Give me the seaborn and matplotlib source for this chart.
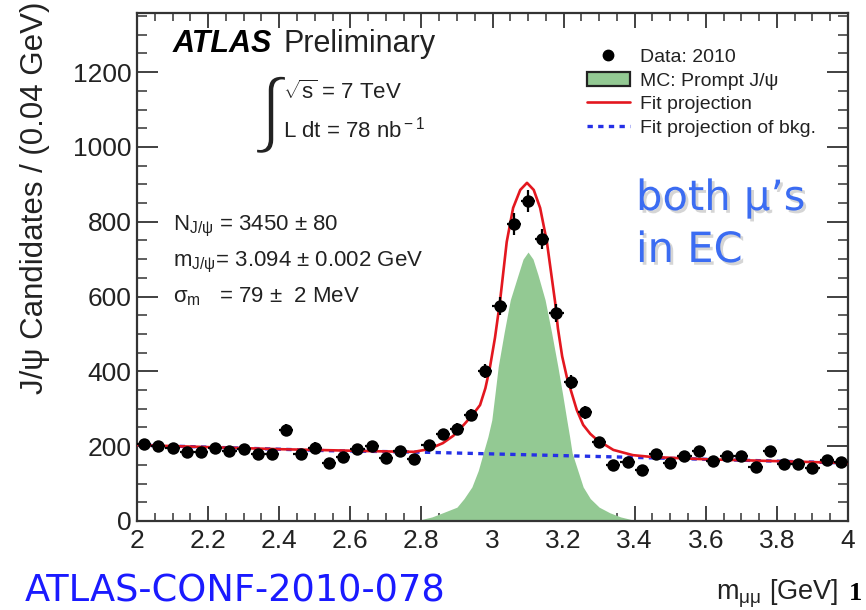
import numpy as np
import pandas as pd
import matplotlib
matplotlib.use("Agg")
import matplotlib.pyplot as plt
import matplotlib.patheffects as pe
from matplotlib.lines import Line2D
from matplotlib.patches import Patch
from matplotlib.ticker import MultipleLocator
import seaborn as sns

# ---------------- data ----------------
bin_centers = [2.02, 2.06, 2.10, 2.14, 2.18, 2.22, 2.26, 2.30, 2.34, 2.38,
               2.42, 2.46, 2.50, 2.54, 2.58, 2.62, 2.66, 2.70, 2.74, 2.78,
               2.82, 2.86, 2.90, 2.94, 2.98, 3.02, 3.06, 3.10, 3.14, 3.18,
               3.22, 3.26, 3.30, 3.34, 3.38, 3.42, 3.46, 3.50, 3.54, 3.58,
               3.62, 3.66, 3.70, 3.74, 3.78, 3.82, 3.86, 3.90, 3.94, 3.98]
data_counts = [205, 201, 194, 185, 185, 194, 188, 193, 179, 179,
               243, 178, 196, 154, 172, 192, 200, 168, 188, 165,
               203, 232, 246, 283, 401, 575, 794, 856, 754, 556,
               372, 291, 211, 150, 159, 136, 180, 154, 175, 187,
               161, 173, 174, 145, 186, 152, 153, 143, 164, 159]

fit_x = [2.00, 2.40, 2.70, 2.78, 2.82, 2.86, 2.89, 2.92, 2.945, 2.965,
         2.98, 2.993, 3.007, 3.021, 3.04, 3.058, 3.078, 3.097, 3.116, 3.134,
         3.153, 3.176, 3.184, 3.196, 3.209, 3.237, 3.255, 3.275, 3.294, 3.34,
         3.395, 3.45, 3.60, 4.00]
fit_y = [203, 192, 186, 185, 192, 208, 228, 258, 285, 310,
         355, 412, 490, 586, 746, 837, 885, 904, 885, 837,
         746, 586, 515, 440, 385, 297, 257, 233, 217, 190,
         176, 171, 165, 155]

bkg_x = [2.00, 2.54, 2.80, 3.40, 3.60, 4.00]
bkg_y = [203, 188, 184, 170, 165, 155]

mc_x = [2.76, 2.80, 2.83, 2.86, 2.90, 2.92, 2.942, 2.96, 2.974, 2.987,
        2.998, 3.007, 3.016, 3.033, 3.05, 3.072, 3.086, 3.10, 3.114, 3.128,
        3.148, 3.166, 3.184, 3.197, 3.209, 3.217, 3.224, 3.24, 3.255, 3.275,
        3.30, 3.33, 3.36, 3.39, 3.44]
mc_y = [0, 4, 11, 22, 37, 60, 91, 135, 182, 225,
        270, 340, 412, 505, 591, 658, 700, 719, 700, 658,
        591, 505, 412, 340, 270, 225, 182, 135, 91, 60,
        37, 22, 11, 4, 0]

legend_labels = ["Data: 2010", "MC: Prompt J/ψ", "Fit projection",
                 "Fit projection of bkg."]

# ---------------- style ----------------
sns.set_theme(style="ticks")
plt.rcParams["font.family"] = ["Liberation Sans", "DejaVu Sans"]
plt.rcParams["mathtext.fontset"] = "custom"
plt.rcParams["mathtext.rm"] = "Liberation Sans"
plt.rcParams["mathtext.it"] = "Liberation Sans:italic"
plt.rcParams["mathtext.bf"] = "Liberation Sans:bold"

GREEN = "#93c993"
RED = "#e3171f"
BLUE = "#2530e6"
TXT = "#222222"

fig = plt.figure(figsize=(8.66, 6.10), dpi=100)
ax = fig.add_axes([137 / 866, (610 - 521) / 610, 711 / 866, 508 / 610])

df = pd.DataFrame({"m": bin_centers, "n": data_counts})
fit_df = pd.DataFrame({"m": fit_x, "n": fit_y})
bkg_df = pd.DataFrame({"m": bkg_x, "n": bkg_y})

# MC histogram (filled)
ax.fill_between(mc_x, mc_y, 0, color=GREEN, lw=0, zorder=1)

# background fit (dotted blue)
sns.lineplot(data=bkg_df, x="m", y="n", ax=ax, color=BLUE, lw=2.4,
             linestyle=(0, (1.6, 1.6)), sort=False, estimator=None, zorder=2)
# full fit (red)
sns.lineplot(data=fit_df, x="m", y="n", ax=ax, color=RED, lw=1.9,
             sort=False, estimator=None, zorder=3)

# data points with error bars
ax.errorbar(df["m"], df["n"], xerr=0.02, yerr=np.sqrt(df["n"]), fmt="none",
            ecolor="black", elinewidth=1.6, capsize=0, zorder=4)
sns.scatterplot(data=df, x="m", y="n", ax=ax, color="black", s=80,
                marker="o", edgecolor="black", linewidth=0, zorder=5)

# ---------------- axes ----------------
ax.set_xlim(2, 4)
ax.set_ylim(0, 1358)
ax.xaxis.set_major_locator(MultipleLocator(0.2))
ax.xaxis.set_minor_locator(MultipleLocator(0.05))
ax.yaxis.set_major_locator(MultipleLocator(200))
ax.yaxis.set_minor_locator(MultipleLocator(50))
ax.set_xticks(np.arange(2, 4.01, 0.2))
ax.set_xticklabels(["2", "2.2", "2.4", "2.6", "2.8", "3", "3.2", "3.4",
                    "3.6", "3.8", "4"])
ax.tick_params(axis="both", which="both", direction="in", top=True,
               right=True, colors="#333333", labelcolor=TXT)
ax.tick_params(axis="x", which="major", length=11, width=1.3, labelsize=19,
               pad=6)
ax.tick_params(axis="x", which="minor", length=6, width=1.1)
ax.tick_params(axis="y", which="major", length=15, width=1.3, labelsize=19,
               pad=4)
ax.tick_params(axis="y", which="minor", length=7, width=1.1)
for s in ax.spines.values():
    s.set_color("#333333")
    s.set_linewidth(1.6)
ax.set_xlabel("")
ax.set_ylabel("")

def fx(px):
    return (px - 137) / 711

def fy(py):
    return (521 - py) / 508

# y axis title (top aligned, ROOT style)
fig.text(0.040, 0.998, "J/ψ Candidates / (0.04 GeV)", rotation=90,
         ha="center", va="top", fontsize=22.5, color=TXT)

# ATLAS Preliminary
ax.text(fx(173), fy(44), "ATLAS", transform=ax.transAxes, fontsize=22,
        fontweight="bold", fontstyle="italic", ha="left", va="center",
        color="black")
ax.text(fx(283), fy(44), "Preliminary", transform=ax.transAxes, fontsize=22,
        ha="left", va="center", color=TXT)

# luminosity block
ax.text(fx(271), fy(115), "∫", transform=ax.transAxes, fontsize=60,
        ha="center", va="center", color=TXT,
        family=["Liberation Sans", "DejaVu Sans"],
        path_effects=[pe.Stroke(linewidth=2.2, foreground="white")])
ax.text(fx(283), fy(92), r"$\sqrt{\rm s}$ = 7 TeV", transform=ax.transAxes,
        fontsize=16, ha="left", va="center", color=TXT)
ax.text(fx(283), fy(130), r"L dt = 78 nb$^{\rm -1}$", transform=ax.transAxes,
        fontsize=16, ha="left", va="center", color=TXT)

# fit results
ax.text(fx(173), fy(226), "N$_{\\rm J/ψ}$ = 3450 ± 80",
        transform=ax.transAxes, fontsize=16, ha="left", va="center", color=TXT)
ax.text(fx(173), fy(262), "m$_{\\rm J/ψ}$= 3.094 ± 0.002 GeV",
        transform=ax.transAxes, fontsize=16, ha="left", va="center", color=TXT)
ax.text(fx(173), fy(297), "σ$_{\\rm m}$   = 79 ±  2 MeV",
        transform=ax.transAxes, fontsize=16, ha="left", va="center", color=TXT)

# annotation
shadow = [pe.SimplePatchShadow(offset=(2, -2), shadow_rgbFace="#888888",
                               alpha=0.35), pe.Normal()]
ax.text(fx(636), fy(198), "both μ’s", transform=ax.transAxes,
        fontsize=30, ha="left", va="center", color="#3b6cf2",
        family=["DejaVu Sans"], path_effects=shadow)
ax.text(fx(636), fy(250), "in EC", transform=ax.transAxes,
        fontsize=30, ha="left", va="center", color="#3b6cf2",
        family=["DejaVu Sans"], path_effects=shadow)

# legend
handles = [
    Line2D([], [], marker="o", color="black", ls="none", ms=7.5),
    Patch(facecolor=GREEN, edgecolor="#222222", lw=1.6),
    Line2D([], [], color=RED, lw=1.9),
    Line2D([], [], color=BLUE, lw=2.4, linestyle=(0, (1.6, 1.6))),
]
leg = ax.legend(handles, legend_labels, loc="upper left",
                bbox_to_anchor=(fx(587), fy(48)), frameon=False, fontsize=14,
                borderpad=0, borderaxespad=0, handlelength=2.2,
                handleheight=0.75, handletextpad=0.5, labelspacing=0.3)
for t in leg.get_texts():
    t.set_color(TXT)

# footer texts
fig.text(25 / 866, (610 - 591) / 610, "ATLAS-CONF-2010-078", fontsize=26.5,
         color="#1a1aff", ha="left", va="center", family=["DejaVu Sans"])
fig.text(716 / 866, (610 - 594) / 610, "m$_{\\rm μμ}$ [GeV]",
         fontsize=19.5, color=TXT, ha="left", va="center")
fig.text(849 / 866, (610 - 594) / 610, "1", fontsize=19, fontweight="bold",
         color="black", ha="left", va="center", family=["Liberation Serif"])

fig.savefig("out.png", dpi=100)
